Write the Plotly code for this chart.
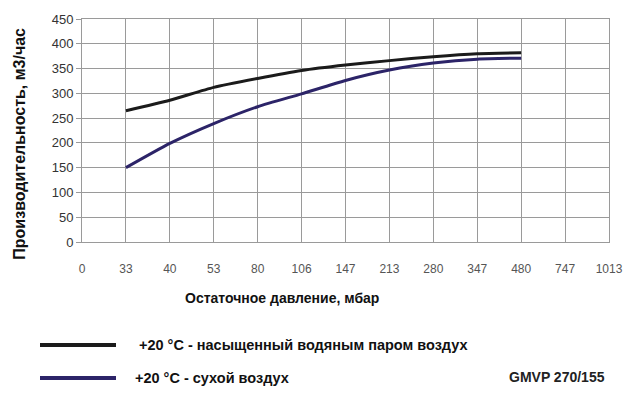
import plotly.graph_objects as go

x_labels = ["0", "33", "40", "53", "80", "106", "147", "213", "280", "347", "480", "747", "1013"]
pressure = ["33", "40", "53", "80", "106", "147", "213", "280", "347", "480"]
saturated = [265, 286, 312, 330, 346, 357, 366, 374, 380, 382]
dry = [150, 199, 239, 273, 299, 326, 347, 361, 369, 371]
y_ticks = [0, 50, 100, 150, 200, 250, 300, 350, 400, 450]

idx = {lab: i for i, lab in enumerate(x_labels)}
xs = [idx[p] for p in pressure]

BLACK = "#1b1b1b"
BLUE = "#2c2468"

fig = go.Figure()
fig.add_trace(go.Scatter(x=xs, y=saturated, mode="lines", line=dict(color=BLACK, width=3, shape="spline", smoothing=0.6),
                         name="+20 °C - насыщенный водяным паром воздух", showlegend=False))
fig.add_trace(go.Scatter(x=xs, y=dry, mode="lines", line=dict(color=BLUE, width=3, shape="spline", smoothing=0.6),
                         name="+20 °C - сухой воздух", showlegend=False))

fig.update_layout(
    width=640, height=398,
    margin=dict(l=82, r=31, t=19, b=156),
    paper_bgcolor="white", plot_bgcolor="white",
    font=dict(family="Liberation Sans, Arial, sans-serif"),
    xaxis=dict(range=[0, 12], tickmode="array", tickvals=list(range(len(x_labels))), ticktext=x_labels,
               showgrid=True, gridcolor="#9a9a9a", gridwidth=1, zeroline=False,
               showline=True, linecolor="#9a9a9a", mirror=True,
               ticks="outside", ticklen=16, tickcolor="rgba(0,0,0,0)",
               tickfont=dict(size=12, color="#555555")),
    yaxis=dict(range=[0, 450], tickmode="array", tickvals=y_ticks,
               showgrid=True, gridcolor="#9a9a9a", gridwidth=1, zeroline=False,
               showline=True, linecolor="#9a9a9a", mirror=True,
               ticks="outside", ticklen=5, tickcolor="#9a9a9a",
               tickfont=dict(size=13, color="#333333")),
)

fig.add_annotation(text="<b>Производительность, м3/час</b>", textangle=-90, xref="paper", yref="paper",
                   x=-0.118, y=0.44, xanchor="center", yanchor="middle", showarrow=False,
                   font=dict(size=16, color="#111111"))
fig.add_annotation(text="<b>Остаточное давление, мбар</b>", xref="paper", yref="paper",
                   x=(282 - 82) / 527, y=-(298 - 242) / 223, xanchor="center", yanchor="middle", showarrow=False,
                   font=dict(size=14, color="#111111"))

legend_items = [("+20 °C - насыщенный водяным паром воздух", BLACK, 345, 137),
                ("+20 °C - сухой воздух", BLUE, 378, 133)]
for text, color, ypx, tx in legend_items:
    yp = (242 - ypx) / 223
    fig.add_shape(type="line", xref="paper", yref="paper", x0=(40 - 82) / 527, x1=(116 - 82) / 527,
                  y0=yp, y1=yp, line=dict(color=color, width=4))
    fig.add_annotation(text="<b>" + text + "</b>", xref="paper", yref="paper", x=(tx - 82) / 527, y=yp,
                       xanchor="left", yanchor="middle", showarrow=False, font=dict(size=14.5, color="#111111"))

fig.add_annotation(text="<b>GMVP 270/155</b>", xref="paper", yref="paper", x=(607 - 82) / 527, y=(242 - 377) / 223,
                   xanchor="right", yanchor="middle", showarrow=False, font=dict(size=14, color="#222222"))

fig.write_html("out.html")
